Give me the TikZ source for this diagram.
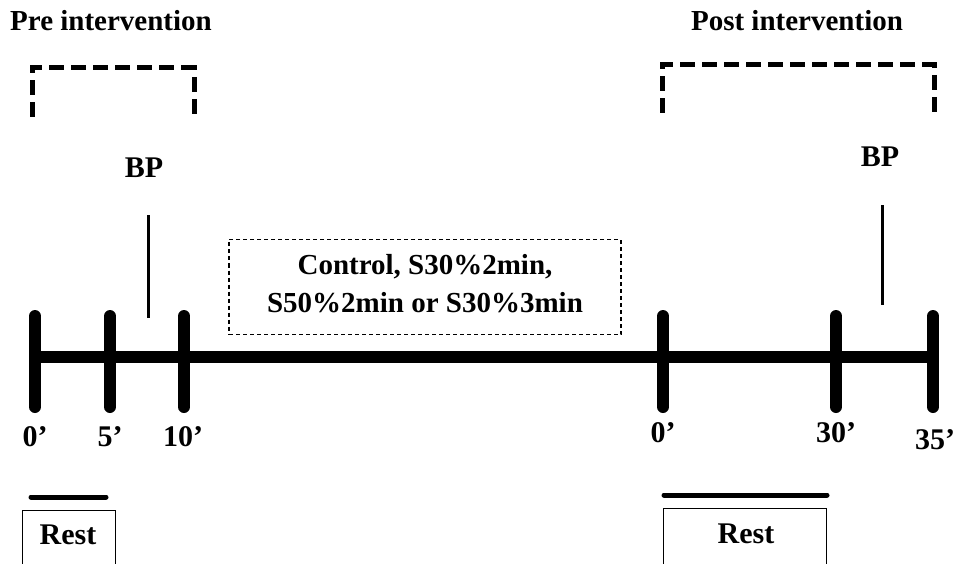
\documentclass[tikz,border=0pt]{standalone}
\usepackage{fontspec}
\setmainfont{Liberation Serif}
\begin{document}
\begin{tikzpicture}[x=1pt,y=-1pt,
  lbl/.style={font=\bfseries\fontsize{30}{32}\selectfont, inner sep=0pt},
  title/.style={font=\bfseries\fontsize{29}{31}\selectfont, inner sep=0pt},
  axis/.style={line width=12pt},
  tick/.style={line width=12pt, line cap=round},
  bracket/.style={line width=5pt, dash pattern=on 15pt off 7pt},
  bpline/.style={line width=3pt},
  restbar/.style={line width=5pt, line cap=round},
  restbox/.style={draw, line width=1pt},
  condbox/.style={draw, line width=1.2pt, dash pattern=on 4pt off 3pt},
  condtext/.style={align=center, inner sep=0pt,
    font=\bfseries\fontsize{29}{38}\selectfont}]
\useasboundingbox (0,0) rectangle (963,564);

% time axis
\coordinate (a0) at (35,357);
\coordinate (a1) at (935,357);
\draw[axis] (a0) -- (a1);

% tick marks
\foreach \n/\x in {t0/35, t5/110, t10/184, u0/663, u30/836, u35/933}{
  \coordinate (\n top) at (\x,316);
  \coordinate (\n bot) at (\x,407);
  \draw[tick] (\n top) -- (\n bot);
}

% tick labels
\node[lbl] (l0) at (35,437) {0’};
\node[lbl] (l5) at (110,437) {5’};
\node[lbl] (l10) at (183,437) {10’};
\node[lbl] (m0) at (663,433) {0’};
\node[lbl] (m30) at (836,433) {30’};
\node[lbl] (m35) at (935,440) {35’};

% phase titles
\node[title] (pre) at (111,21) {Pre intervention};
\node[title] (post) at (797,21) {Post intervention};

% measurement brackets
\coordinate (pa) at (32,117);
\coordinate (pb) at (32,68);
\coordinate (pc) at (194,68);
\coordinate (pd) at (194,117);
\draw[bracket] (pa) -- (pb) -- (pc) -- (pd);
\coordinate (qa) at (662,113);
\coordinate (qb) at (662,65);
\coordinate (qc) at (934,65);
\coordinate (qd) at (934,113);
\draw[bracket] (qa) -- (qb) -- (qc) -- (qd);

% blood pressure markers
\node[lbl] (bp1) at (144,168) {BP};
\coordinate (bp1a) at (148,215);
\coordinate (bp1b) at (148,318);
\draw[bpline] (bp1a) -- (bp1b);
\node[lbl] (bp2) at (880,157) {BP};
\coordinate (bp2a) at (882,205);
\coordinate (bp2b) at (882,305);
\draw[bpline] (bp2a) -- (bp2b);

% intervention conditions
\node[condbox, minimum width=392pt, minimum height=95pt] (cond) at (425,287) {};
\node[condtext] (condlbl) at (425,284)
  {Control, S30\%2min,\\S50\%2min or S30\%3min};

% rest periods
\coordinate (r1a) at (31,497);
\coordinate (r1b) at (106,497);
\draw[restbar] (r1a) -- (r1b);
\node[restbox, minimum width=93pt, minimum height=60pt, anchor=north west] (rest1) at (22,510) {};
\node[lbl] (rest1lbl) at (68,535) {Rest};
\coordinate (r2a) at (664,495);
\coordinate (r2b) at (827,495);
\draw[restbar] (r2a) -- (r2b);
\node[restbox, minimum width=163pt, minimum height=60pt, anchor=north west] (rest2) at (663,508) {};
\node[lbl] (rest2lbl) at (746,534) {Rest};
\end{tikzpicture}
\end{document}
